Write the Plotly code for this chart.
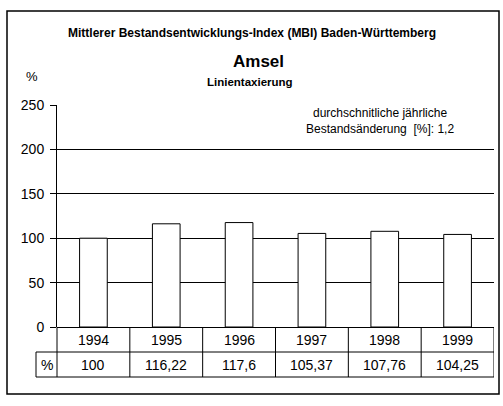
import plotly.graph_objects as go

years = ['1994', '1995', '1996', '1997', '1998', '1999']
index_values = [100, 116.22, 117.6, 105.37, 107.76, 104.25]
value_labels = ['100', '116,22', '117,6', '105,37', '107,76', '104,25']
y_ticks = [0, 50, 100, 150, 200, 250]

W, H = 503, 406
L, R, T, B = 57, 494, 105, 327   # plot area in pixels


def px(x):
    return (x - L) / (R - L)


def py(y):
    return (B - y) / (B - T)


font = 'Liberation Sans, Arial, sans-serif'

fig = go.Figure(
    data=go.Bar(
        x=years,
        y=index_values,
        marker=dict(color='white', line=dict(color='black', width=1)),
        width=0.38,
    )
)

shapes = []
# table lines
row1, row2 = 352, 377
shapes.append(dict(type='line', xref='paper', yref='paper',
                   x0=px(L), x1=px(L), y0=0, y1=py(row2)))
shapes.append(dict(type='line', xref='paper', yref='paper',
                   x0=px(36), x1=px(R), y0=py(row1), y1=py(row1)))
shapes.append(dict(type='line', xref='paper', yref='paper',
                   x0=px(36), x1=px(R), y0=py(row2), y1=py(row2)))
shapes.append(dict(type='line', xref='paper', yref='paper',
                   x0=px(36), x1=px(36), y0=py(row1), y1=py(row2)))
for i in range(1, len(years) + 1):
    shapes.append(dict(type='line', xref='x', yref='paper',
                       x0=i - 0.5, x1=i - 0.5, y0=0, y1=py(row2)))
for s in shapes:
    s['line'] = dict(color='black', width=1)
# outer frame
shapes.append(dict(type='rect', xref='paper', yref='paper',
                   x0=px(7), x1=px(499), y0=py(394), y1=py(11),
                   line=dict(color='black', width=1.5)))

annotations = [
    dict(text='<b>Mittlerer Bestandsentwicklungs-Index (MBI) Baden-Württemberg</b>',
         x=px(252), y=py(33), font=dict(size=12)),
    dict(text='<b>Amsel</b>', x=px(258), y=py(62), font=dict(size=17)),
    dict(text='<b>Linientaxierung</b>', x=px(250), y=py(82), font=dict(size=11.5)),
    dict(text='%', x=px(32), y=py(77), font=dict(size=13)),
    dict(text='durchschnitliche jährliche<br>Bestandsänderung  [%]: 1,2',
         x=px(380), y=py(121), font=dict(size=12)),
    dict(text='%', x=px(46.5), y=py(365), font=dict(size=14)),
]
for i, (yr, lab) in enumerate(zip(years, value_labels)):
    annotations.append(dict(text=yr, x=i, xref='x', y=py(340), font=dict(size=14)))
    annotations.append(dict(text=lab, x=i, xref='x', y=py(365), font=dict(size=14)))
for a in annotations:
    a.setdefault('xref', 'paper')
    a['yref'] = 'paper'
    a['showarrow'] = False
    a['xanchor'] = 'center'
    a['yanchor'] = 'middle'
    a['font'] = dict(family=font, color='black', **a['font'])

fig.update_layout(
    width=W, height=H,
    margin=dict(l=L, r=W - R, t=T, b=H - B, pad=0),
    paper_bgcolor='white', plot_bgcolor='white',
    showlegend=False,
    font=dict(family=font, size=14, color='black'),
    xaxis=dict(type='category', range=[-0.5, 5.5], showticklabels=False,
               showgrid=False, showline=False, zeroline=False, ticks=''),
    yaxis=dict(range=[0, 250], tickvals=y_ticks, ticks='outside', ticklen=6,
               ticklabelstandoff=3,
               tickcolor='black', showline=True, linecolor='black', linewidth=1,
               showgrid=True, gridcolor='black', gridwidth=1,
               zeroline=True, zerolinecolor='black', zerolinewidth=1,
               tickfont=dict(size=14)),
    shapes=shapes,
    annotations=annotations,
)

fig.write_html('out.html', config={'displayModeBar': False},
               post_script="document.body.style.margin='0';")
